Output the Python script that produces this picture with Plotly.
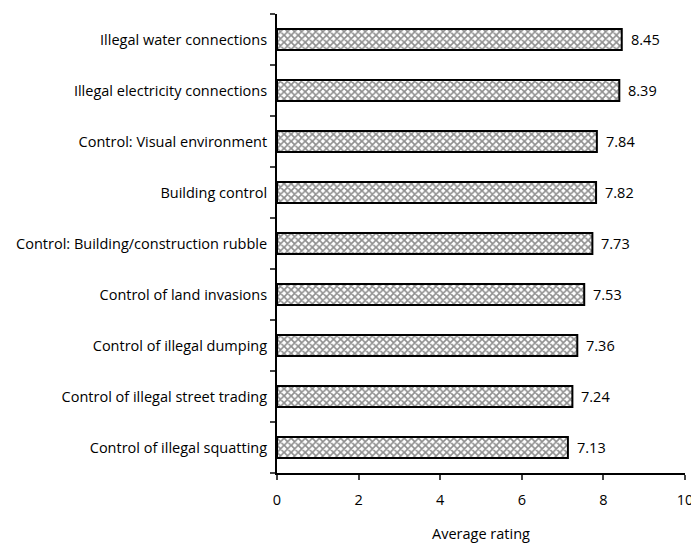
import plotly.graph_objects as go

categories = [
    "Control of illegal squatting",
    "Control of illegal street trading",
    "Control of illegal dumping",
    "Control of land invasions",
    "Control: Building/construction rubble",
    "Building control",
    "Control: Visual environment",
    "Illegal electricity connections",
    "Illegal water connections",
]
values = [7.13, 7.24, 7.36, 7.53, 7.73, 7.82, 7.84, 8.39, 8.45]
x_ticks = [0, 2, 4, 6, 8, 10]

font_family = "'Open Sans', sans-serif"
fs = 14.5

fig = go.Figure(go.Bar(
    y=categories,
    x=values,
    orientation="h",
    marker=dict(
        color="white",
        line=dict(color="black", width=2),
        pattern=dict(shape="x", fgcolor="#1e1e1e", bgcolor="#ffffff", size=5, solidity=0.55),
    ),
))

for c, v in zip(categories, values):
    fig.add_annotation(
        x=v, y=c, xref="x", yref="y", text=f"{v:.2f}", showarrow=False,
        xanchor="left", xshift=7, font=dict(size=fs, color="black", family=font_family),
    )

fig.update_layout(
    width=691, height=538,
    margin=dict(l=269, r=13, t=6, b=68),
    paper_bgcolor="white", plot_bgcolor="white",
    bargap=0.59,
    showlegend=False,
    font=dict(family=font_family, size=fs, color="black"),
)
fig.update_xaxes(
    range=[0, 10], tickvals=x_ticks, ticks="outside", ticklen=5, tickwidth=2,
    ticklabelstandoff=8,
    showline=True, linecolor="black", linewidth=2, showgrid=False, zeroline=False,
    title=dict(text="Average rating", font=dict(size=fs), standoff=20),
    tickfont=dict(size=fs),
)
fig.update_yaxes(
    ticks="outside", tickson="boundaries", ticklen=5, tickwidth=2,
    ticklabelstandoff=5,
    showline=True, linecolor="black", linewidth=2, showgrid=False,
    tickfont=dict(size=fs),
)

fig.write_html("out.html")
